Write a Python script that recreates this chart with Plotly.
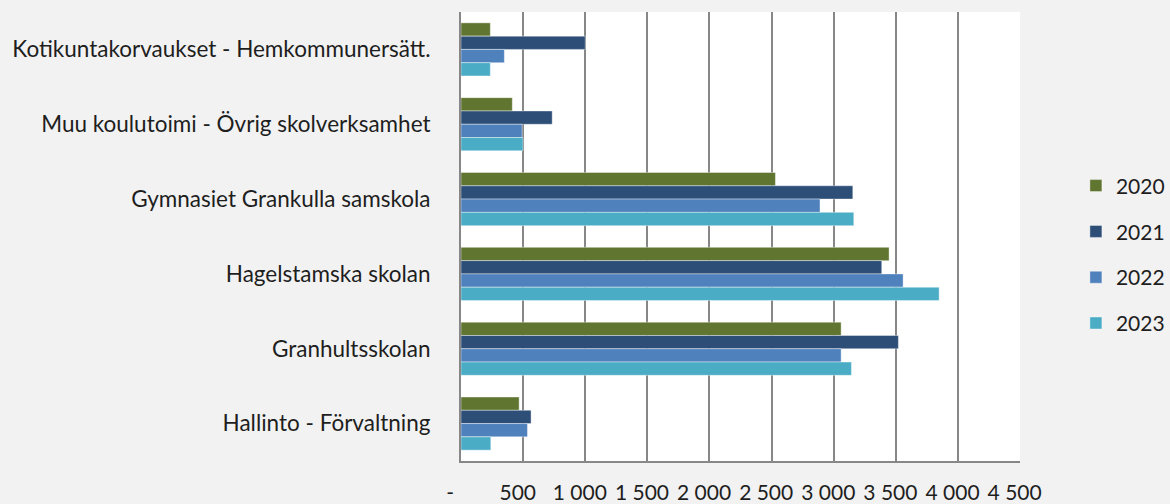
import plotly.graph_objects as go

categories = [
    "Kotikuntakorvaukset - Hemkommunersätt.",
    "Muu koulutoimi - Övrig skolverksamhet",
    "Gymnasiet Grankulla samskola",
    "Hagelstamska skolan",
    "Granhultsskolan",
    "Hallinto - Förvaltning",
]
years = ["2020", "2021", "2022", "2023"]
v2020 = [236, 413, 2531, 3446, 3060, 468]
v2021 = [1000, 734, 3154, 3387, 3521, 564]
v2022 = [349, 492, 2890, 3559, 3060, 535]
v2023 = [236, 499, 3162, 3849, 3143, 240]
colors = ["#5f7530", "#2c4e77", "#4f81bd", "#4bacc6"]
tick_vals = [0, 500, 1000, 1500, 2000, 2500, 3000, 3500, 4000, 4500]
tick_text = ["-", "500", "1 000", "1 500", "2 000", "2 500", "3 000", "3 500", "4 000", "4 500"]

series = [v2020, v2021, v2022, v2023]
FONT = "Lato"
NB = "\u00a0"

fig = go.Figure()
for yr, vals, col in zip(years, series, colors):
    fig.add_trace(go.Bar(
        y=categories, x=vals, name=yr, orientation="h",
        marker=dict(color=col, line=dict(color="rgba(255,255,255,0.5)", width=0.8)),
        legendgroup=yr,
    ))

ticks_disp = [(t.replace(" ", NB) + NB * (4 if t == "-" else 2)) for t in tick_text]

fig.update_layout(
    width=1170, height=504,
    paper_bgcolor="#f2f2f2", plot_bgcolor="white",
    margin=dict(l=461, r=150, t=12, b=43, autoexpand=False),
    barmode="group", bargap=0.29, bargroupgap=0,
    font=dict(family=FONT, size=21, color="#1e1e1e"),
    showlegend=True,
    legend=dict(x=1.1, xanchor="left", y=0.46, yanchor="middle",
                bgcolor="rgba(0,0,0,0)", tracegroupgap=15.5,
                font=dict(family=FONT, size=21, color="#1e1e1e")),
    xaxis=dict(range=[0, 4500], tickvals=tick_vals, ticktext=ticks_disp,
               tickangle=0,
               showgrid=True, gridcolor="#878787", gridwidth=2,
               zeroline=False, showline=True, linecolor="#878787", linewidth=2,
               ticks="", ticklabelstandoff=12, fixedrange=True),
    yaxis=dict(autorange="reversed", showgrid=False, showline=True,
               linecolor="#878787", linewidth=2, ticks="",
               tickfont=dict(size=22.5),
               ticklabelstandoff=24, fixedrange=True),
)

fig.write_html("out.html", config={"displayModeBar": False},
               post_script="document.body.style.margin='0';")
